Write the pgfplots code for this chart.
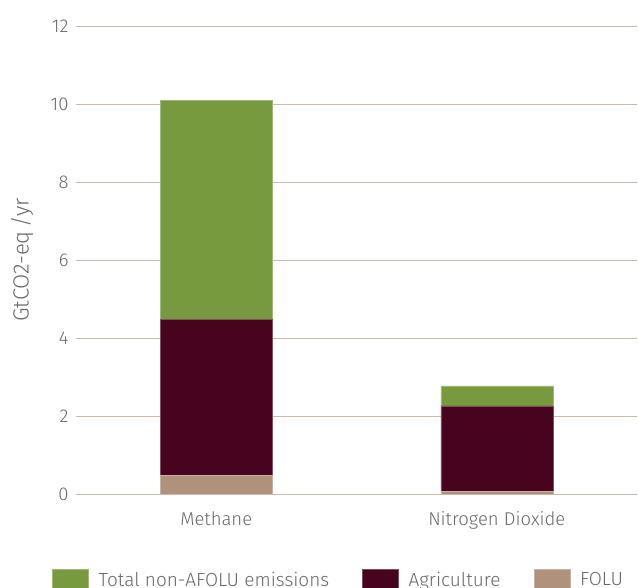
\documentclass[border=0pt]{standalone}
\usepackage{pgfplots}
\pgfplotsset{compat=1.18}
\usepackage{fontspec}
\setmainfont{Fira Sans}[UprightFont=* Light]
\definecolor{cgreen}{RGB}{119,154,62}
\definecolor{cmaroon}{RGB}{72,4,31}
\definecolor{ctan}{RGB}{176,145,123}
\definecolor{cgrid}{RGB}{205,185,170}
\definecolor{ctext}{RGB}{105,105,105}
\begin{document}
\begin{tikzpicture}
\path[use as bounding box] (-76pt,-94pt) rectangle (563pt,494pt);
\begin{axis}[
  at={(0pt,0pt)}, anchor=south west,
  scale only axis, width=561pt, height=468pt,
  ybar stacked, bar width=112pt,
  xmin=-0.5, xmax=1.5, ymin=0, ymax=12,
  ytick={0,2,4,6,8,10,12},
  xtick=data, xticklabels={Methane,Nitrogen Dioxide},
  axis line style={draw=none},
  ymajorgrids, grid style={cgrid, line width=0.8pt},
  major tick length=0pt,
  /pgf/number format/assume math mode=true,
  tick label style={font=\fontsize{18.5}{22}\selectfont, text=ctext},
  yticklabel style={xshift=-4pt},
  xticklabel style={yshift=-14pt},
  ylabel={GtCO2-eq\,/yr},
  every axis y label/.style={at={(axis description cs:-0.0963,0.5)}, rotate=90, anchor=center, font=\fontsize{22}{26}\selectfont, text=ctext},
  reverse legend,
  legend columns=3,
  legend style={at={(axis description cs:-0.0428,-0.183)}, anchor=west, draw=none, fill=none, inner sep=0pt,
    font=\fontsize{19}{22}\selectfont, text=ctext,
    /tikz/every even column/.append style={column sep=31pt},
    /tikz/every odd column/.append style={column sep=8pt}},
  legend image code/.code={\fill[#1] (0pt,-10pt) rectangle (36pt,10pt);},
]
\addplot[fill=ctan, draw=ctan!70!white, line width=0.5pt] coordinates {(0,0.47) (1,0.06)};
\addplot[fill=cmaroon, draw=cmaroon!70!white, line width=0.5pt] coordinates {(0,4.0) (1,2.2)};
\addplot[fill=cgreen, draw=cgreen!70!white, line width=0.5pt] coordinates {(0,5.62) (1,0.51)};
\legend{FOLU,Agriculture,Total non-AFOLU emissions}
\end{axis}
\end{tikzpicture}
\end{document}
